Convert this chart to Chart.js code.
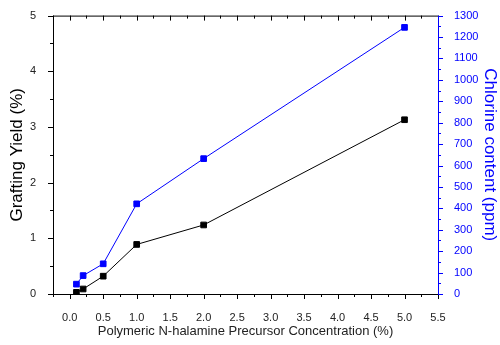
<!DOCTYPE html>
<html>
<head>
<meta charset="utf-8">
<script src="https://cdn.jsdelivr.net/npm/chart.js@4.4.1/dist/chart.umd.min.js"></script>
<style>
  html, body { margin: 0; padding: 0; background: #fff; }
  #wrap { width: 500px; height: 345px; }
</style>
</head>
<body>
<div id="wrap"><canvas id="chlorineChart" width="500" height="345"></canvas></div>
<script>
// precursor concentration (%) and measured results
const concentration = [0.1, 0.2, 0.5, 1.0, 2.0, 5.0];
const graftingYield = [0.03, 0.09, 0.32, 0.89, 1.24, 3.13];
const chlorineContent = [46, 86, 141, 421, 632, 1245];

const xTicks = [0, 0.5, 1, 1.5, 2, 2.5, 3, 3.5, 4, 4.5, 5, 5.5];
const yieldTicks = [0, 1, 2, 3, 4, 5];
const chlorineTicks = [0, 100, 200, 300, 400, 500, 600, 700, 800, 900, 1000, 1100, 1200, 1300];

const BLUE = '#0000ff';
const FONT = 'Arial, "Liberation Sans", sans-serif';

// axis lines plus major / minor tick marks, drawn off the scales
const axisFrame = {
    id: 'axisFrame',
    afterDraw(chart) {
        const { ctx, chartArea: a, scales } = chart;
        const x = scales.x, yl = scales.yl, yr = scales.yr;
        ctx.save();
        ctx.lineWidth = 1;

        ctx.strokeStyle = '#000';
        ctx.beginPath();
        ctx.moveTo(a.left + 0.5, a.top + 0.5);
        ctx.lineTo(a.right, a.top + 0.5);
        ctx.moveTo(a.left + 0.5, a.top);
        ctx.lineTo(a.left + 0.5, a.bottom + 0.5);
        ctx.lineTo(a.right, a.bottom + 0.5);

        // x ticks: bottom outward, top inward
        for (let v = -0.25; v <= 5.5 + 1e-9; v += 0.25) {
            const px = Math.round(x.getPixelForValue(v)) + 0.5;
            const major = Math.abs(v * 2 - Math.round(v * 2)) < 1e-6;
            const len = major ? 5 : 3;
            ctx.moveTo(px, a.bottom);
            ctx.lineTo(px, a.bottom + len);
            ctx.moveTo(px, a.top);
            ctx.lineTo(px, a.top + len);
        }
        // left ticks
        for (let v = 0; v <= 5 + 1e-9; v += 0.5) {
            const py = Math.round(yl.getPixelForValue(v)) + 0.5;
            const len = Number.isInteger(v) ? 5 : 3;
            ctx.moveTo(a.left, py);
            ctx.lineTo(a.left - len, py);
        }
        ctx.stroke();

        ctx.strokeStyle = BLUE;
        ctx.beginPath();
        ctx.moveTo(a.right + 0.5, a.top);
        ctx.lineTo(a.right + 0.5, a.bottom + 1);
        for (let v = 0; v <= 1300; v += 50) {
            const py = Math.round(yr.getPixelForValue(v)) + 0.5;
            const len = v % 100 === 0 ? 5 : 3;
            ctx.moveTo(a.right, py);
            ctx.lineTo(a.right + len, py);
        }
        ctx.stroke();
        ctx.restore();
    }
};

new Chart(document.getElementById('chlorineChart'), {
    type: 'line',
    plugins: [axisFrame],
    data: {
        datasets: [{
            label: 'Grafting Yield',
            data: concentration.map((c, i) => ({ x: c, y: graftingYield[i] })),
            yAxisID: 'yl',
            borderColor: '#000',
            backgroundColor: '#000',
            borderWidth: 1,
            pointStyle: 'rect',
            pointRadius: 4,
            pointBorderWidth: 1,
        }, {
            label: 'Chlorine content',
            data: concentration.map((c, i) => ({ x: c, y: chlorineContent[i] })),
            yAxisID: 'yr',
            borderColor: BLUE,
            backgroundColor: BLUE,
            borderWidth: 1,
            pointStyle: 'rect',
            pointRadius: 4,
            pointBorderWidth: 1,
        }]
    },
    options: {
        responsive: false,
        animation: false,
        layout: { padding: { top: 12, left: 0, right: 0, bottom: 0 } },
        plugins: {
            legend: { display: false },
            tooltip: { enabled: false },
        },
        scales: {
            x: {
                type: 'linear',
                min: -0.25,
                max: 5.5,
                afterBuildTicks: s => { s.ticks = xTicks.map(v => ({ value: v })); },
                afterFit: s => { s.height = 51; },
                grid: { display: false },
                border: { display: false },
                ticks: {
                    color: '#222',
                    padding: 9,
                    font: { family: FONT, size: 11 },
                    callback: v => v.toFixed(1),
                },
                title: {
                    display: true,
                    text: 'Polymeric N-halamine Precursor Concentration (%)',
                    color: '#222',
                    font: { family: FONT, size: 13 },
                    padding: { top: 2, bottom: 6 },
                },
            },
            yl: {
                position: 'left',
                min: 0,
                max: 5,
                afterBuildTicks: s => { s.ticks = yieldTicks.map(v => ({ value: v })); },
                afterFit: s => { s.width = 53; },
                grid: { display: false },
                border: { display: false },
                ticks: {
                    color: '#222',
                    padding: 9,
                    font: { family: FONT, size: 11 },
                },
                title: {
                    display: true,
                    text: 'Grafting Yield (%)',
                    color: '#000',
                    font: { family: FONT, size: 17 },
                    padding: { top: 7, bottom: 0 },
                },
            },
            yr: {
                position: 'right',
                min: 0,
                max: 1300,
                afterBuildTicks: s => { s.ticks = chlorineTicks.map(v => ({ value: v })); },
                afterFit: s => { s.width = 62; },
                grid: { display: false },
                border: { display: false },
                ticks: {
                    color: BLUE,
                    padding: 8,
                    font: { family: FONT, size: 11 },
                    callback: v => String(v),
                },
                title: {
                    display: true,
                    text: 'Chlorine content (ppm)',
                    color: BLUE,
                    font: { family: FONT, size: 17 },
                    padding: { top: 0, bottom: 0 },
                },
            },
        },
    },
});
</script>
</body>
</html>
